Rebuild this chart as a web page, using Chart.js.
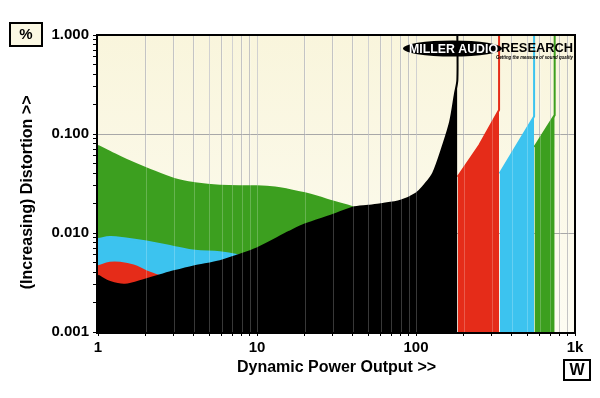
<!DOCTYPE html>
<html>
<head>
<meta charset="utf-8">
<script src="https://cdn.jsdelivr.net/npm/chart.js@4.4.1/dist/chart.umd.min.js"></script>
<style>
  html, body { margin: 0; padding: 0; background: #fff; }
  #wrap { width: 600px; height: 398px; }
</style>
</head>
<body>
<div id="wrap"><canvas id="dist-chart" width="600" height="398"></canvas></div>
<script>
// ====== DATA (power in W, distortion in %) ======
const blackCurve = [
  [1, 0.0037], [1.19, 0.0032], [1.48, 0.0030], [2, 0.0034], [2.4, 0.0037], [3, 0.0041],
  [4, 0.0046], [5.85, 0.0052], [7.45, 0.0059], [10, 0.0070], [16, 0.0103], [20, 0.0122],
  [30, 0.0152], [40, 0.0180], [50, 0.0188], [60, 0.0195], [80, 0.0212], [100, 0.025],
  [114, 0.031], [128, 0.040], [148, 0.077], [164, 0.133], [176, 0.258], [182, 0.35], [182, 1.0]
];
const redLow = [
  [1, 0.0046], [1.19, 0.0050], [1.375, 0.0050], [1.67, 0.0047], [2.02, 0.0041],
  [2.4, 0.0037], [2.7, 0.0034]
];
const redHigh = [[183, 0.037], [250, 0.077], [333, 0.175], [333, 1.0]];
const blueLow = [
  [1, 0.0087], [1.19, 0.0091], [1.5, 0.0088], [2.02, 0.0082], [3.05, 0.0072],
  [4.07, 0.0066], [5.85, 0.0064], [7.45, 0.0060], [8.5, 0.0055]
];
const blueHigh = [[336, 0.040], [430, 0.077], [553, 0.15], [553, 1.0]];
const greenLow = [
  [1, 0.076], [1.19, 0.066], [1.5, 0.055], [2.02, 0.045], [3.05, 0.035], [4.07, 0.0318],
  [5.85, 0.0300], [10, 0.0296], [13, 0.0288], [16, 0.0272], [20, 0.0252], [25, 0.0228],
  [30, 0.0208], [40, 0.0182], [45, 0.0165]
];
const greenHigh = [[556, 0.074], [745, 0.155], [745, 1.0]];

const powerTicks = [1, 2, 3, 4, 5, 6, 7, 8, 9, 10, 20, 30, 40, 50, 60, 70, 80, 90,
  100, 200, 300, 400, 500, 600, 700, 800, 900, 1000];
const powerDecades = [1, 10, 100, 1000];
const powerLabels = ['1', '10', '100', '1k'];
const distTicks = [0.001, 0.002, 0.003, 0.004, 0.005, 0.006, 0.007, 0.008, 0.009,
  0.01, 0.02, 0.03, 0.04, 0.05, 0.06, 0.07, 0.08, 0.09,
  0.1, 0.2, 0.3, 0.4, 0.5, 0.6, 0.7, 0.8, 0.9, 1];
const distDecades = [0.001, 0.01, 0.1, 1];
const distLabels = ['0.001', '0.010', '0.100', '1.000'];

const GREEN = '#3c9f1f';
const BLUE = '#3cc3ef';
const RED = '#e52c19';
const BLACK = '#000000';
const FONT = "'Liberation Sans', Arial, sans-serif";

// ====== HELPERS ======
const toPts = arr => arr.map(p => ({ x: p[0], y: p[1] }));
const near = (v, list) => list.findIndex(d => Math.abs(v - d) / d < 1e-6);

function series(pts, color, tension) {
  return {
    data: toPts(pts),
    borderColor: color,
    backgroundColor: color,
    borderWidth: 2,
    pointRadius: 0,
    fill: 'start',
    tension: tension
  };
}

function fitText(ctx, text, x, y, width, font, color) {
  ctx.save();
  ctx.font = font;
  ctx.fillStyle = color;
  ctx.textAlign = 'left';
  ctx.textBaseline = 'middle';
  const w = ctx.measureText(text).width;
  ctx.translate(x, y);
  ctx.scale(width / w, 1);
  ctx.fillText(text, 0, 0);
  ctx.restore();
}

// ====== PLUGINS ======
const plotBackground = {
  id: 'plotBackground',
  beforeDraw(chart) {
    const { ctx, chartArea: a } = chart;
    const g = ctx.createLinearGradient(0, a.top, 0, a.bottom);
    g.addColorStop(0, '#f9f5dc');
    g.addColorStop(1, '#fdfcf2');
    ctx.save();
    ctx.fillStyle = g;
    ctx.fillRect(a.left, a.top, a.right - a.left, a.bottom - a.top);
    ctx.restore();
  }
};

const overlay = {
  id: 'overlay',
  afterDatasetsDraw(chart) {
    const { ctx, chartArea: a, scales } = chart;
    ctx.save();
    // faint grid stripes showing through the filled areas
    ctx.strokeStyle = 'rgba(255,255,255,0.22)';
    ctx.lineWidth = 1;
    powerTicks.forEach(v => {
      if (v === 1 || v === 1000) return;
      const px = Math.round(scales.x.getPixelForValue(v)) + 0.5;
      ctx.beginPath();
      ctx.moveTo(px, a.top);
      ctx.lineTo(px, a.bottom);
      ctx.stroke();
    });
    // frame
    ctx.strokeStyle = '#000';
    ctx.lineWidth = 2;
    ctx.strokeRect(a.left - 1, a.top, a.right - a.left + 1, a.bottom - a.top + 1);
    ctx.restore();
  },
  afterDraw(chart) {
    const { ctx } = chart;
    ctx.save();
    // unit boxes
    ctx.fillStyle = '#fbf8e3';
    ctx.fillRect(10, 23, 32, 23);
    ctx.strokeStyle = '#000';
    ctx.lineWidth = 2;
    ctx.strokeRect(10, 23, 32, 23);
    ctx.fillStyle = '#fff';
    ctx.fillRect(564, 360, 26, 20);
    ctx.strokeRect(564, 360, 26, 20);
    ctx.fillStyle = '#000';
    ctx.font = 'bold 15px ' + FONT;
    ctx.textAlign = 'center';
    ctx.textBaseline = 'middle';
    ctx.fillText('%', 26, 35);
    ctx.font = 'bold 16px ' + FONT;
    ctx.fillText('W', 577, 371);

    // logo
    ctx.beginPath();
    ctx.ellipse(452.5, 48.5, 49.5, 8, 0, 0, Math.PI * 2);
    ctx.fillStyle = '#000';
    ctx.fill();
    fitText(ctx, 'MILLER AUDIO', 409, 49, 89, 'bold 13px ' + FONT, '#fff');
    fitText(ctx, 'RESEARCH', 501, 48.5, 72, 'bold 13px ' + FONT, '#000');
    fitText(ctx, 'Getting the measure of sound quality', 496, 57.5, 77, 'italic bold 6px ' + FONT, '#000');
    ctx.restore();
  }
};

// ====== CHART ======
const ctx = document.getElementById('dist-chart').getContext('2d');
const distChart = new Chart(ctx, {
  type: 'line',
  data: {
    datasets: [
      series(blackCurve, BLACK, 0.3),
      series(redLow, RED, 0.4),
      series(redHigh, RED, 0),
      series(blueLow, BLUE, 0.4),
      series(blueHigh, BLUE, 0),
      series(greenLow, GREEN, 0.4),
      series(greenHigh, GREEN, 0)
    ]
  },
  options: {
    responsive: false,
    animation: false,
    layout: { padding: { top: 35, right: 25, bottom: 0, left: 0 } },
    plugins: {
      legend: { display: false },
      tooltip: { enabled: false }
    },
    scales: {
      x: {
        type: 'logarithmic',
        min: 1,
        max: 1000,
        afterBuildTicks: scale => { scale.ticks = powerTicks.map(v => ({ value: v })); },
        afterFit: scale => { scale.height = 66; },
        border: { display: false },
        grid: {
          color: c => (c.tick && (c.tick.value === 1 || c.tick.value === 1000)) ? 'rgba(0,0,0,0)' : '#c4c4c4',
          tickColor: '#000',
          tickLength: 4
        },
        ticks: {
          autoSkip: false,
          maxRotation: 0,
          padding: 3,
          color: '#000',
          font: { family: FONT, size: 15, weight: 'bold' },
          callback: v => { const i = near(v, powerDecades); return i >= 0 ? powerLabels[i] : ''; }
        },
        title: {
          display: true,
          text: 'Dynamic Power Output >>',
          color: '#000',
          font: { family: FONT, size: 16, weight: 'bold' },
          padding: { top: 0, bottom: 21 }
        }
      },
      y: {
        type: 'logarithmic',
        min: 0.001,
        max: 1,
        afterBuildTicks: scale => { scale.ticks = distTicks.map(v => ({ value: v })); },
        afterFit: scale => { scale.width = 98; },
        border: { display: false },
        grid: {
          color: c => {
            if (!c.tick) return 'rgba(0,0,0,0)';
            return (near(c.tick.value, [0.01, 0.1]) >= 0) ? '#a8a8a8' : 'rgba(0,0,0,0)';
          },
          tickColor: '#000',
          tickLength: 5
        },
        ticks: {
          autoSkip: false,
          padding: 4,
          color: '#000',
          font: { family: FONT, size: 15, weight: 'bold' },
          callback: v => { const i = near(v, distDecades); return i >= 0 ? distLabels[i] : ''; }
        },
        title: {
          display: true,
          // trailing spaces nudge the rotated title down to where the original sits
          text: '(Increasing) Distortion >>    ',
          color: '#000',
          font: { family: FONT, size: 16, weight: 'bold' },
          padding: { top: 18, bottom: 0 }
        }
      }
    }
  },
  plugins: [plotBackground, overlay]
});
</script>
</body>
</html>
